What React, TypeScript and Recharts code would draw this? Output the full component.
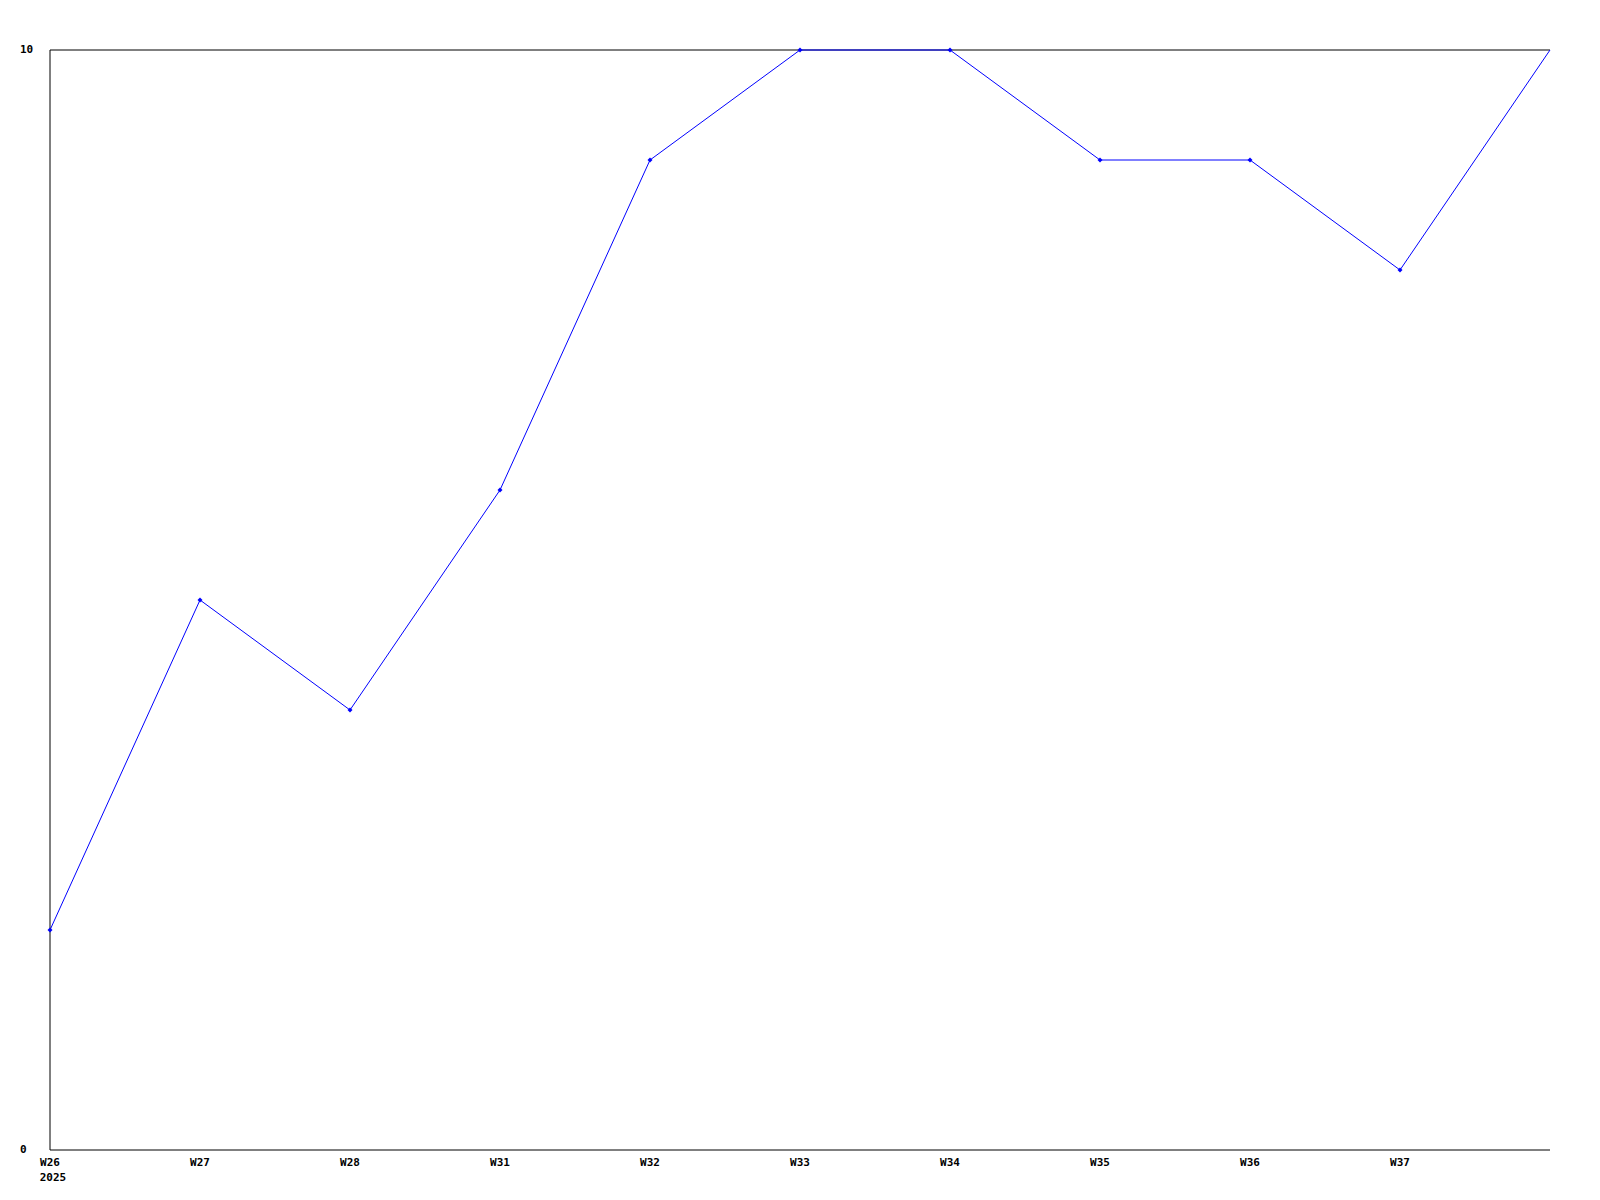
import React from "react";
import { LineChart, Line, XAxis, YAxis, ReferenceLine } from "recharts";

const weeks = ["W26", "W27", "W28", "W31", "W32", "W33", "W34", "W35", "W36", "W37", ""];
const counts = [2, 5, 4, 6, 9, 10, 10, 9, 9, 8, 10];
const yTicks = [0, 10];
const yearLabel = "2025";

const data = weeks.map((week, i) => ({ week, count: counts[i] }));

const FONT = "'DejaVu Sans Mono', 'Liberation Mono', monospace";

function WeekTick(props: any) {
  const { x, y, payload, index } = props;
  return (
    <g>
      <text
        x={x}
        y={y + 5}
        textAnchor="middle"
        dominantBaseline="middle"
        fontFamily={FONT}
        fontWeight="bold"
        fontSize={11}
        fill="#000"
      >
        {payload.value}
      </text>
      {index === 0 && (
        <text
          x={x + 3}
          y={y + 20}
          textAnchor="middle"
          dominantBaseline="middle"
          fontFamily={FONT}
          fontWeight="bold"
          fontSize={11}
          fill="#000"
        >
          {yearLabel}
        </text>
      )}
    </g>
  );
}

function CountTick(props: any) {
  const { y, payload } = props;
  return (
    <text
      x={20}
      y={y}
      textAnchor="start"
      dominantBaseline="middle"
      fontFamily={FONT}
      fontWeight="bold"
      fontSize={11}
      fill="#000"
    >
      {payload.value}
    </text>
  );
}

function Marker(props: any) {
  const { cx, cy, index } = props;
  if (index === data.length - 1) return <g key={`m-${index}`} />;
  return (
    <polygon
      key={`m-${index}`}
      points={`${cx},${cy - 2.5} ${cx + 2.5},${cy} ${cx},${cy + 2.5} ${cx - 2.5},${cy}`}
      fill="#0000ff"
    />
  );
}

export default function App() {
  return (
    <div style={{ position: "absolute", left: 0, top: 0, background: "#fff" }}>
      <LineChart
        width={1600}
        height={1200}
        data={data}
        margin={{ top: 50, right: 50, bottom: 0, left: 0 }}
      >
        <XAxis
          dataKey="week"
          height={50}
          interval={0}
          tickLine={false}
          axisLine={{ stroke: "#000" }}
          tick={<WeekTick />}
        />
        <YAxis
          width={50}
          domain={[0, 10]}
          ticks={yTicks}
          tickLine={false}
          axisLine={{ stroke: "#000" }}
          tick={<CountTick />}
        />
        <ReferenceLine y={10} stroke="#000" />
        <Line
          type="linear"
          dataKey="count"
          stroke="#0000ff"
          strokeWidth={1}
          dot={<Marker />}
          activeDot={false}
          isAnimationActive={false}
        />
      </LineChart>
    </div>
  );
}
